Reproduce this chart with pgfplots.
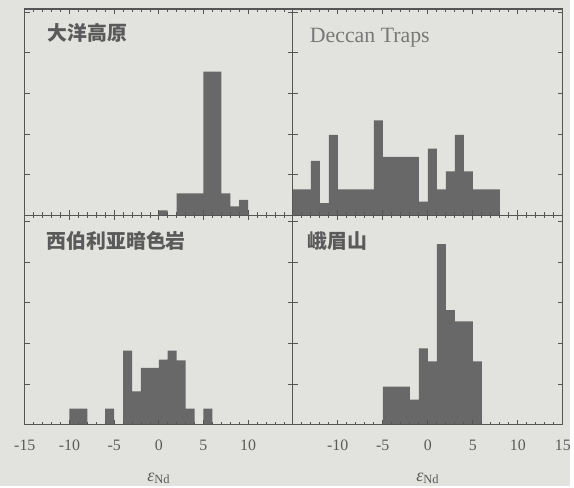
\documentclass[border=0pt]{standalone}
\usepackage{pgfplots}
\pgfplotsset{compat=1.18}
\usepackage{fontspec}
\setmainfont{Liberation Serif}
\newfontfamily\cjk{Noto Sans CJK SC}
\definecolor{bg}{RGB}{226,226,222}
\definecolor{barc}{RGB}{104,104,104}
\definecolor{framec}{RGB}{85,85,85}
\definecolor{txt}{RGB}{90,90,90}
\pgfplotsset{
 hist/.style={
  scale only axis, axis on top, xmin=-15, xmax=15, ymin=0,
  axis line style={framec, line width=1.2pt},
  every tick/.style={framec, line width=0.7pt},
  major tick length=5pt, minor tick length=3pt,
  tick align=inside, xtick pos=both, ytick pos=both,
  ytick={0,5,10,15,20,25}, yticklabels={},
  minor xtick={-15,...,15},
  xticklabel style={font=\fontsize{16}{16}\selectfont, text=txt, yshift=-12pt},
  xlabel style={font=\fontsize{18}{18}\selectfont, text=txt, yshift=-15pt},
  /pgf/number format/assume math mode=true,
 },
}
\tikzset{lab/.style={anchor=base west, text=txt, inner sep=0pt}}
\begin{document}
\begin{tikzpicture}
\fill[bg] (0pt,0pt) rectangle (574pt,490pt);
% top left
\begin{axis}[hist, at={(25pt,481pt)}, anchor=north west, width=270pt, height=208pt, ymax=25.4,
  xtick={-15,-10,...,15}, xticklabels={}]
\addplot[ybar interval, fill=barc, draw=none] coordinates {(0,0.6) (1,0) (2,2.7) (5,17.7) (7,2.7) (8,1.1) (9,1.9) (10,0)};
\node[lab, font={\cjk\bfseries\fontsize{20}{24}\selectfont}, xshift=23pt, yshift=-32pt] at (rel axis cs:0,1) {大洋高原};
\end{axis}
% top right
\begin{axis}[hist, at={(295pt,481pt)}, anchor=north west, width=272pt, height=208pt, ymax=25.4,
  xtick={-15,-10,...,15}, xticklabels={}]
\addplot[ybar interval, fill=barc, draw=none] coordinates {(-15,3.2) (-13,6.7) (-12,1.5) (-11,9.9) (-10,3.2) (-6,11.7) (-5,7.2) (-1,1.7) (0,8.2) (1,3.2) (2,5.4) (3,9.9) (4,5.4) (5,3.2) (8,0)};
\node[lab, font={\fontsize{22}{24}\selectfont}, text={rgb,255:red,120;green,120;blue,120}, xshift=17pt, yshift=-34pt] at (rel axis cs:0,1) {Deccan Traps};
\end{axis}
% bottom left
\begin{axis}[hist, at={(25pt,273pt)}, anchor=north west, width=270pt, height=211pt, ymax=25.73,
  xtick={-15,-10,...,10}, xlabel={{\itshape ε}\textsubscript{Nd}}]
\addplot[ybar interval, fill=barc, draw=none] coordinates {(-10,2.0) (-8,0) (-6,2.0) (-5,0) (-4,9.1) (-3,4.1) (-2,7.0) (0,8.0) (1,9.1) (2,7.9) (3,2.0) (4,0) (5,2.0) (6,0)};
\node[lab, font={\cjk\bfseries\fontsize{20}{24}\selectfont}, xshift=22pt, yshift=-33pt] at (rel axis cs:0,1) {西伯利亚暗色岩};
\end{axis}
% bottom right
\begin{axis}[hist, at={(295pt,273pt)}, anchor=north west, width=272pt, height=211pt, ymax=25.73,
  xtick={-10,-5,...,15}, xlabel={{\itshape ε}\textsubscript{Nd}}]
\addplot[ybar interval, fill=barc, draw=none] coordinates {(-5,4.7) (-2,3.1) (-1,9.4) (0,7.8) (1,22.2) (2,14.1) (3,12.7) (5,7.8) (6,0)};
\node[lab, font={\cjk\bfseries\fontsize{20}{24}\selectfont}, xshift=15pt, yshift=-33pt] at (rel axis cs:0,1) {峨眉山};
\end{axis}
\end{tikzpicture}
\end{document}
